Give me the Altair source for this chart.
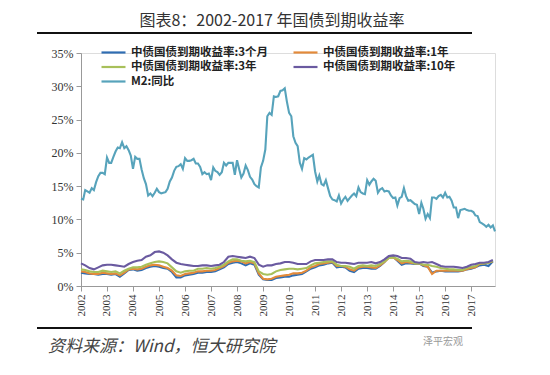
import altair as alt
import pandas as pd

TITLE = "图表8：2002-2017 年国债到期收益率"
SOURCE = "资料来源：Wind，恒大研究院"
LOGO = "泽平宏观"

SERIES = ["中债国债到期收益率:3个月", "中债国债到期收益率:1年",
          "中债国债到期收益率:3年", "中债国债到期收益率:10年", "M2:同比"]
COLORS = ["#2f6db3", "#e38a3a", "#a8c05a", "#6a5aa0", "#57a3bb"]

# M2 YoY growth, monthly 2002-01 .. 2017-12 (%)
M2 = [
    13.1, 13.0, 14.4, 14.2, 14.0, 14.7, 14.4, 15.6, 16.5, 17.0, 17.0, 16.8,
    19.3, 18.5, 18.5, 19.4, 20.2, 20.8, 20.7, 21.6, 20.7, 21.0, 20.4, 19.6,
    17.6, 19.4, 19.1, 19.1, 17.5, 16.2, 15.3, 13.6, 13.9, 13.5, 14.0, 14.6,
    14.1, 13.9, 14.0, 14.1, 14.6, 15.7, 16.3, 17.3, 17.9, 18.0, 18.3, 17.6,
    19.2, 18.8, 18.8, 18.9, 19.1, 18.4, 18.4, 17.9, 16.8, 17.1, 16.8, 16.9,
    15.9, 17.8, 17.3, 17.1, 16.7, 17.1, 18.5, 18.1, 18.5, 18.5, 18.5, 16.7,
    18.9, 17.5, 16.3, 16.9, 18.1, 17.4, 16.4, 16.0, 15.3, 15.0, 14.8, 17.8,
    18.8, 20.5, 25.5, 26.0, 25.7, 28.5, 28.4, 28.5, 29.3, 29.4, 29.7, 27.7,
    26.0, 25.5, 22.5, 21.5, 21.0, 18.5, 17.6, 19.2, 19.0, 19.3, 19.5, 19.7,
    17.2, 15.7, 16.6, 15.3, 15.1, 15.9, 14.7, 13.5, 13.0, 12.9, 12.7, 13.6,
    12.4, 13.0, 13.4, 12.8, 13.2, 13.6, 13.9, 13.5, 14.8, 14.1, 13.9, 13.8,
    15.9, 15.2, 15.7, 16.1, 15.8, 14.0, 14.5, 14.7, 14.2, 14.3, 14.2, 13.6,
    13.2, 13.3, 12.1, 13.2, 13.4, 14.7, 13.5, 12.8, 12.9, 12.6, 12.3, 12.2,
    10.8, 12.5, 11.6, 10.1, 10.8, 10.2, 13.3, 13.3, 13.1, 13.5, 13.7, 13.3,
    14.0, 13.3, 13.4, 12.8, 11.8, 11.8, 10.2, 11.4, 11.5, 11.6, 11.4, 11.3,
    11.3, 11.1, 10.6, 10.5, 9.6, 9.4, 9.2, 8.9, 9.2, 8.8, 9.1, 8.2,
]

# Government bond yields, every two months (Jan, Mar, May, Jul, Sep, Nov) 2002..2017 (%)
Y3M = [
    2.0, 1.9, 1.8, 1.8, 1.7, 1.8,
    1.8, 1.7, 1.8, 1.4, 1.9, 2.4,
    2.5, 2.3, 2.4, 2.7, 2.9, 3.0,
    2.9, 2.7, 2.6, 2.1, 1.3, 1.3,
    1.6, 1.7, 1.8, 2.0, 2.0, 2.1,
    2.1, 2.2, 2.5, 2.8, 3.3, 3.5,
    3.6, 3.4, 3.1, 3.4, 3.2, 1.7,
    1.0, 0.9, 0.9, 1.2, 1.3, 1.4,
    1.4, 1.6, 1.7, 1.8, 2.2, 2.6,
    2.8, 3.1, 3.2, 3.4, 3.5, 2.8,
    2.9, 2.8, 2.3, 2.1, 2.6, 2.7,
    2.7, 2.6, 2.6, 3.0, 3.6, 4.4,
    4.4, 3.8, 3.2, 3.4, 3.4, 3.3,
    3.4, 3.0, 2.9, 2.0, 2.2, 2.3,
    2.2, 2.2, 2.2, 2.2, 2.3, 2.5,
    2.6, 2.8, 3.1, 3.2, 3.0, 3.7,
]
Y1Y = [
    2.2, 2.1, 1.9, 1.8, 1.8, 2.0,
    1.9, 1.8, 1.9, 1.6, 2.0, 2.5,
    2.6, 2.5, 2.6, 2.9, 3.1, 3.2,
    3.1, 2.9, 2.7, 2.3, 1.6, 1.5,
    1.8, 1.9, 2.0, 2.2, 2.2, 2.3,
    2.3, 2.4, 2.7, 3.0, 3.5, 3.7,
    3.8, 3.7, 3.4, 3.6, 3.4, 1.9,
    1.1, 1.0, 1.1, 1.4, 1.5, 1.6,
    1.7, 1.9, 1.9, 2.0, 2.3, 2.8,
    3.0, 3.3, 3.4, 3.5, 3.6, 3.0,
    3.0, 2.9, 2.5, 2.3, 2.8, 2.9,
    2.9, 2.8, 2.7, 3.1, 3.6, 4.2,
    4.3, 3.9, 3.4, 3.6, 3.5, 3.4,
    3.4, 3.1, 2.9, 1.8, 2.3, 2.3,
    2.3, 2.3, 2.3, 2.3, 2.3, 2.5,
    2.7, 2.8, 3.3, 3.4, 3.5, 3.7,
]
Y3Y = [
    2.5, 2.4, 2.2, 2.1, 2.1, 2.3,
    2.2, 2.1, 2.2, 1.9, 2.3, 2.6,
    2.8, 2.8, 2.9, 3.2, 3.4, 3.6,
    3.7, 3.6, 3.4, 2.8, 2.2, 2.0,
    2.2, 2.3, 2.3, 2.6, 2.6, 2.7,
    2.6, 2.7, 2.9, 3.2, 3.7, 4.0,
    4.0, 3.8, 3.7, 3.8, 3.6, 2.2,
    1.8, 1.7, 1.8, 2.2, 2.4, 2.5,
    2.6, 2.6, 2.5, 2.6, 2.7, 3.1,
    3.4, 3.5, 3.6, 3.7, 3.7, 3.2,
    3.0, 3.0, 2.9, 2.6, 3.0, 3.1,
    3.0, 3.1, 3.0, 3.3, 3.7, 4.2,
    4.3, 4.1, 3.7, 3.8, 3.7, 3.4,
    3.4, 3.2, 3.2, 3.0, 2.9, 2.7,
    2.6, 2.5, 2.5, 2.4, 2.4, 2.7,
    2.9, 3.0, 3.4, 3.4, 3.5, 3.8,
]
Y10Y = [
    3.4, 3.1, 2.7, 2.5, 2.8, 3.1,
    3.2, 3.2, 3.1, 3.0, 2.9, 3.3,
    3.6, 3.8, 3.9, 4.4, 4.6, 5.1,
    5.2, 5.0, 4.6, 4.0, 3.5, 3.3,
    3.2, 3.1, 3.0, 3.0, 3.1, 3.1,
    3.0, 3.1, 3.2, 3.6, 4.4, 4.5,
    4.4, 4.3, 4.2, 4.4, 4.2, 3.2,
    2.9, 3.1, 3.1, 3.3, 3.4, 3.6,
    3.6, 3.5, 3.3, 3.3, 3.3, 3.7,
    3.9, 3.9, 3.9, 4.0, 4.0, 3.6,
    3.5, 3.5, 3.4, 3.3, 3.5, 3.5,
    3.5, 3.6, 3.4, 3.6, 4.0, 4.5,
    4.6, 4.5, 4.2, 4.2, 4.1, 3.6,
    3.5, 3.6, 3.5, 3.6, 3.3, 3.0,
    2.9, 2.9, 2.9, 2.8, 2.7, 2.9,
    3.2, 3.3, 3.5, 3.5, 3.6, 3.9,
]

m2_dates = pd.date_range("2002-01-01", "2017-12-01", freq="MS")
bond_dates = [pd.Timestamp(year=y, month=m, day=1)
              for y in range(2002, 2018) for m in (1, 3, 5, 7, 9, 11)]

frames = []
for name, vals in zip(SERIES[:4], [Y3M, Y1Y, Y3Y, Y10Y]):
    frames.append(pd.DataFrame({"date": bond_dates, "value": [v / 100 for v in vals], "series": name}))
frames.append(pd.DataFrame({"date": m2_dates, "value": [v / 100 for v in M2], "series": SERIES[4]}))
df = pd.concat(frames, ignore_index=True)
df["order"] = df["series"].map({s: i for i, s in enumerate(SERIES)})

W, H = 414, 233

lines = alt.Chart(df).mark_line(strokeWidth=2.1).encode(
    x=alt.X("date:T",
            scale=alt.Scale(domain=["2002-01-01", "2017-12-01"]),
            axis=alt.Axis(title=None, format="%Y", labelAngle=-90,
                          tickCount={"interval": "year", "step": 1},
                          labelFont="Liberation Serif", labelFontSize=11,
                          labelColor="#333", domainColor="#999", tickColor="#999",
                          tickSize=5, grid=False, labelPadding=3)),
    y=alt.Y("value:Q",
            scale=alt.Scale(domain=[0, 0.35], nice=False),
            axis=alt.Axis(title=None, format=".0%", values=[i / 100 for i in range(0, 36, 5)],
                          labelFont="Liberation Serif", labelFontSize=12,
                          labelColor="#333", domainColor="#999", tickColor="#999",
                          tickSize=5, grid=False, labelPadding=3)),
    color=alt.Color("series:N",
                    scale=alt.Scale(domain=SERIES, range=COLORS),
                    legend=alt.Legend(title=None, orient="none", legendX=25, legendY=-8,
                                      direction="horizontal",
                                      columns=2, columnPadding=20, rowPadding=1.5,
                                      symbolType="M-2,0L2,0", symbolSize=144,
                                      symbolStrokeWidth=2.2, labelOffset=10,
                                      labelFont="Noto Sans CJK SC",
                                      labelFontSize=11.5, labelFontWeight="bold",
                                      labelColor="#222", labelLimit=300)),
    order="order:Q",
)

title_df = pd.DataFrame({"t": [TITLE]})
title = alt.Chart(title_df).mark_text(font="Noto Sans CJK SC", fontSize=16, color="#333",
                                      align="center", baseline="middle").encode(
    text="t:N", x=alt.value(191), y=alt.value(-32))

rule_top = alt.Chart(title_df).mark_rule(color="#111", strokeWidth=2).encode(
    x=alt.value(-44), x2=alt.value(391), y=alt.value(-20))
rule_bot = alt.Chart(title_df).mark_rule(color="#111", strokeWidth=2).encode(
    x=alt.value(-44), x2=alt.value(391), y=alt.value(275))

src_df = pd.DataFrame({"t": [SOURCE]})
source = alt.Chart(src_df).mark_text(font="Noto Sans CJK SC", fontSize=17, fontStyle="italic",
                                     color="#444", align="left", baseline="middle").encode(
    text="t:N", x=alt.value(-33), y=alt.value(294))

logo_df = pd.DataFrame({"t": [LOGO]})
logo = alt.Chart(logo_df).mark_text(font="Noto Sans CJK SC", fontSize=10, color="#999",
                                    align="left", baseline="middle").encode(
    text="t:N", x=alt.value(342), y=alt.value(289))

chart = alt.layer(lines, title, rule_top, rule_bot, source, logo).properties(
    width=W, height=H,
    autosize=alt.AutoSizeParams(type="none"),
    padding={"left": 73, "top": 45, "right": 47, "bottom": 81},
).configure_view(stroke=None).configure(background="white")

chart.save("out.html", embed_options={"renderer": "svg", "actions": False})
